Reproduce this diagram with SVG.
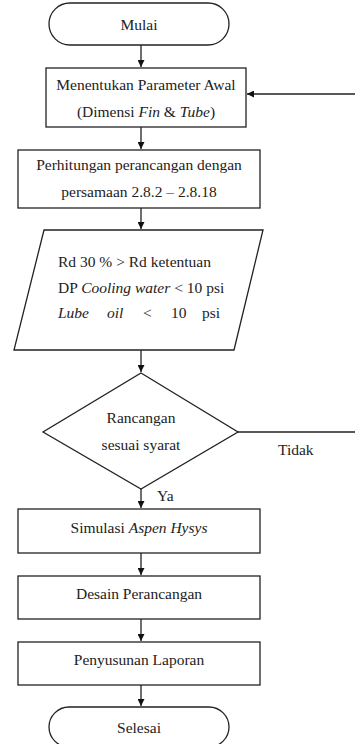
<svg xmlns="http://www.w3.org/2000/svg" width="355" height="744" viewBox="0 0 355 744">
<style>
.s{fill:#fff;stroke:#222;stroke-width:1.3}
.c{stroke:#222;stroke-width:1.3;fill:none}
text{fill:#222;font-size:15.5px}
.t{text-anchor:middle}
</style>
<defs>
<marker id="a" viewBox="0 0 10 10" refX="10" refY="5" markerWidth="7" markerHeight="7" markerUnits="userSpaceOnUse" orient="auto">
<path d="M0,0 L10,5 L0,10 z" fill="#111"/>
</marker>
</defs>
<rect width="355" height="744" fill="#fff"/>
<g font-family="'Liberation Serif', Tinos, 'Times New Roman', 'DejaVu Serif', serif">
<g id="connectors">
<line class="c" x1="141" y1="45" x2="141" y2="67" marker-end="url(#a)"/>
<line class="c" x1="355" y1="94" x2="247" y2="94" marker-end="url(#a)"/>
<line class="c" x1="141" y1="127" x2="141" y2="149" marker-end="url(#a)"/>
<line class="c" x1="141" y1="208" x2="141" y2="229" marker-end="url(#a)"/>
<line class="c" x1="141" y1="350" x2="141" y2="372" marker-end="url(#a)"/>
<line class="c" x1="238" y1="432" x2="355" y2="432" stroke-width="1"/>
<line class="c" x1="141" y1="489" x2="141" y2="508" marker-end="url(#a)"/>
<line class="c" x1="141" y1="553" x2="141" y2="575" marker-end="url(#a)"/>
<line class="c" x1="141" y1="619" x2="141" y2="641" marker-end="url(#a)"/>
<line class="c" x1="141" y1="685" x2="141" y2="706" marker-end="url(#a)"/>
<text x="278" y="455">Tidak</text>
<text x="157" y="501">Ya</text>
</g>
<g id="mulai">
<rect class="s" x="49" y="3" width="180" height="42" rx="21"/>
<text class="t" x="139" y="30">Mulai</text>
</g>
<g id="parameter">
<rect class="s" x="46" y="68" width="200" height="59"/>
<text class="t" x="146" y="90">Menentukan Parameter Awal</text>
<text class="t" x="146" y="117">(Dimensi <tspan font-style="italic">Fin</tspan> &amp; <tspan font-style="italic">Tube</tspan>)</text>
</g>
<g id="perhitungan">
<rect class="s" x="18" y="150" width="242" height="58"/>
<text class="t" x="139" y="170">Perhitungan perancangan dengan</text>
<text class="t" x="139" y="197">persamaan 2.8.2 – 2.8.18</text>
</g>
<g id="syarat">
<polygon class="s" points="44,230 263,230 234,350 14,350"/>
<text x="58" y="267">Rd 30 % &gt; Rd ketentuan</text>
<text x="58" y="293">DP <tspan font-style="italic">Cooling water</tspan> &lt; 10 psi</text>
<text x="58" y="318" font-style="italic">Lube</text>
<text x="107" y="318" font-style="italic">oil</text>
<text x="143" y="318">&lt;</text>
<text x="171" y="318">10</text>
<text x="202" y="318">psi</text>
</g>
<g id="keputusan">
<polygon class="s" points="141,373 238,432 141,489 43,432"/>
<text class="t" x="141" y="423">Rancangan</text>
<text class="t" x="141" y="450">sesuai syarat</text>
</g>
<g id="simulasi">
<rect class="s" x="18" y="509" width="242" height="44"/>
<text class="t" x="139" y="533">Simulasi <tspan font-style="italic">Aspen Hysys</tspan></text>
</g>
<g id="desain">
<rect class="s" x="18" y="576" width="242" height="43"/>
<text class="t" x="139" y="599">Desain Perancangan</text>
</g>
<g id="laporan">
<rect class="s" x="18" y="642" width="242" height="43"/>
<text class="t" x="139" y="665">Penyusunan Laporan</text>
</g>
<g id="selesai">
<rect class="s" x="49" y="707" width="180" height="40" rx="20"/>
<text class="t" x="139" y="733">Selesai</text>
</g>
</g>
</svg>
